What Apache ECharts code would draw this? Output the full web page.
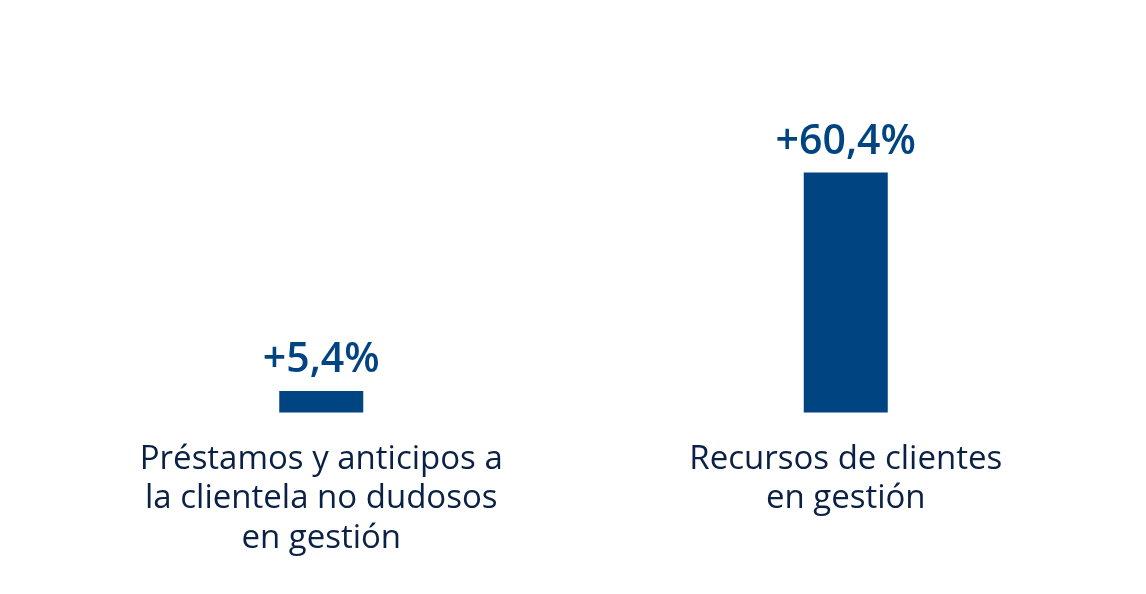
<!DOCTYPE html>
<html>
<head>
<meta charset="utf-8">
<script src="https://cdn.jsdelivr.net/npm/echarts@6/dist/echarts.min.js"></script>
<style>html,body{margin:0;padding:0;background:#fff}#c{width:1146px;height:594px}</style>
</head>
<body>
<div id="c"></div>
<script>
var categories = ['Préstamos y anticipos a\nla clientela no dudosos\nen gestión', 'Recursos de clientes\nen gestión'];
var values = [5.4, 60.4];
var valueLabels = ['+5,4%', '+60,4%'];

var chart = echarts.init(document.getElementById('c'), null, {renderer: 'canvas'});
chart.setOption({
  animation: false,
  grid: {left: 59, right: 38, top: 172.5, bottom: 181.5, containLabel: false},
  xAxis: {
    type: 'category',
    data: categories,
    axisLine: {show: false},
    axisTick: {show: false},
    axisLabel: {
      interval: 0,
      margin: 27,
      color: '#0a2145',
      fontFamily: 'Open Sans',
      fontSize: 33,
      lineHeight: 39.5
    }
  },
  yAxis: {
    type: 'value',
    min: 0,
    max: 60.4,
    show: false,
    splitLine: {show: false}
  },
  series: [{
    type: 'bar',
    data: values,
    barWidth: 84,
    itemStyle: {color: '#004481'},
    label: {
      show: true,
      position: 'top',
      distance: 10,
      formatter: function (p) { return valueLabels[p.dataIndex]; },
      color: '#004481',
      fontFamily: 'Open Sans',
      fontWeight: 600,
      fontSize: 41
    }
  }]
});
</script>
</body>
</html>
